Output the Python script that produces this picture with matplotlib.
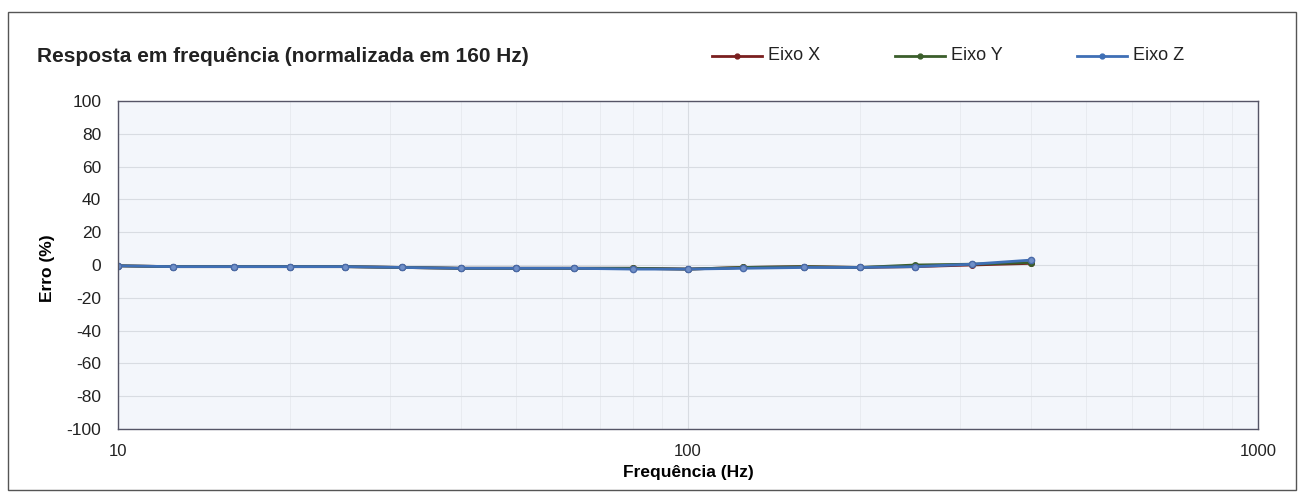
import matplotlib
matplotlib.use("Agg")
import matplotlib.pyplot as plt
from matplotlib.lines import Line2D
from matplotlib.patches import Rectangle

plt.rcParams['font.family'] = ['Liberation Sans', 'DejaVu Sans']
plt.rcParams['axes.unicode_minus'] = False

freqs = [10, 12.5, 16, 20, 25, 31.5, 40, 50, 63, 80, 100, 125, 160, 200, 250, 315, 400]
eixo_x = [-0.5, -1.0, -1.0, -1.0, -1.0, -1.5, -2.0, -2.0, -2.0, -2.0, -2.5, -1.5, -1.0, -1.5, -1.0, 0.0, 1.0]
eixo_y = [-0.5, -1.0, -1.0, -1.0, -1.0, -1.5, -2.0, -2.0, -2.0, -2.0, -2.5, -1.5, -1.0, -1.5, 0.0, 0.5, 1.5]
eixo_z = [-0.5, -1.0, -1.0, -1.0, -1.0, -1.5, -2.0, -2.0, -2.0, -2.5, -2.5, -2.0, -1.5, -1.5, -1.0, 0.5, 3.0]
yticks = list(range(-100, 101, 20))
xticks = [10, 100, 1000]

fig = plt.figure(figsize=(13.04, 4.96), dpi=100)
fig.patch.set_facecolor('white')
fig.add_artist(Rectangle((8/1304, 6/496), 1288/1304, 478/496, transform=fig.transFigure,
                         fill=False, edgecolor='#555555', linewidth=1.0))

ax = fig.add_axes([118/1304, 1-429/496, 1140/1304, 328/496])
ax.set_facecolor('#f3f6fb')
ax.set_xscale('log')
ax.set_xlim(10, 1000)
ax.set_ylim(-100, 100)
ax.set_xticks(xticks)
ax.set_xticklabels([str(t) for t in xticks])
ax.set_yticks(yticks)
ax.set_yticklabels([str(t) for t in yticks])
ax.minorticks_on()
ax.yaxis.set_minor_locator(matplotlib.ticker.NullLocator())
ax.grid(True, which='major', color='#d8dce2', linewidth=0.8)
ax.grid(True, which='minor', axis='x', color='#e6e9ee', linewidth=0.6)
ax.tick_params(which='both', length=0, colors='#222222')
ax.tick_params(axis='y', labelsize=12.5, pad=12)
ax.tick_params(axis='x', labelsize=12, pad=11)
for s in ax.spines.values():
    s.set_color('#555566')
    s.set_linewidth(1.0)

ax.plot(freqs, eixo_x, color='#7a1f1f', lw=2, marker='o', ms=4, label='Eixo X')
ax.plot(freqs, eixo_y, color='#3b5e2b', lw=2, marker='o', ms=4, label='Eixo Y')
ax.plot(freqs, eixo_z, color='#3f6fb5', lw=2, marker='o', ms=4.5,
        markerfacecolor='#6f8fc8', markeredgecolor='#4a6aa8', label='Eixo Z')

ax.set_ylabel('Erro (%)', fontsize=12.5, fontweight='bold', labelpad=1)
ax.set_xlabel('Frequência (Hz)', fontsize=12.5, fontweight='bold', labelpad=4)
ax.yaxis.set_label_coords(55/1304, 1-268/496, transform=fig.transFigure)

fig.text(37/1304, 1-57/496, 'Resposta em frequência (normalizada em 160 Hz)',
         fontsize=15, fontweight='bold', va='center', ha='left', color='#222222')

leg = [('Eixo X', '#7a1f1f', 712), ('Eixo Y', '#3b5e2b', 895), ('Eixo Z', '#3f6fb5', 1077)]
for name, col, x0 in leg:
    fig.add_artist(Line2D([x0/1304, (x0+25)/1304, (x0+50)/1304], [1-56/496]*3, transform=fig.transFigure,
                          color=col, lw=2, marker='o', markevery=[1], ms=3.5))
    fig.text((x0+56)/1304, 1-56/496, name, fontsize=13, va='center', ha='left', color='#222222')

fig.savefig('out.png', dpi=100)
